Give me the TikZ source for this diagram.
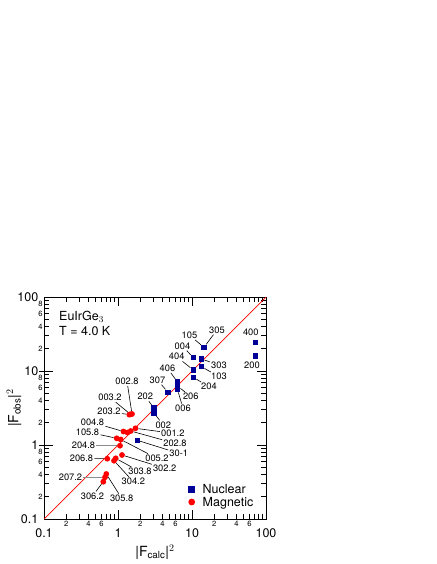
\documentclass[tikz,border=0pt]{standalone}
\usepackage{fontspec}
\setmainfont{TeX Gyre Heros}
\definecolor{nucblue}{RGB}{0,0,153}
\definecolor{magred}{RGB}{255,0,0}
\begin{document}
\begin{tikzpicture}[x=1pt,y=-1pt,
  lbl/.style={inner sep=0pt,outer sep=1.3pt,font=\fontsize{9.3}{9.3}\selectfont},
  majl/.style={inner sep=0pt,font=\fontsize{12.5}{12.5}\selectfont},
  minl/.style={inner sep=0pt,font=\fontsize{7.6}{7.6}\selectfont},
  nuc/.style={rectangle,fill=nucblue,draw=none,minimum size=5.5pt,inner sep=0pt},
  mag/.style={circle,fill=magred,draw=none,minimum size=5.8pt,inner sep=0pt},
  lead/.style={draw=black,line width=0.6pt},
  glead/.style={draw=black!45,line width=1.1pt},
]
\fill[white] (0,0) rectangle (436,564);
\useasboundingbox (0,0) rectangle (436,564);

% ticks
\foreach \d in {0,1,2}{
  \foreach \m in {2,...,9}{
    \pgfmathsetmacro\o{74*(\d+ln(\m)/ln(10))}
    \draw[line width=0.8pt] (44+\o,519) -- ++(0,-5);
    \draw[line width=0.8pt] (44+\o,297) -- ++(0,5);
    \draw[line width=0.8pt] (44,519-\o) -- ++(5,0);
    \draw[line width=0.8pt] (266,519-\o) -- ++(-5,0);
  }
}
\foreach \o in {74,148}{
  \draw[line width=0.8pt] (44+\o,519) -- ++(0,-9);
  \draw[line width=0.8pt] (44+\o,297) -- ++(0,9);
  \draw[line width=0.8pt] (39,519-\o) -- ++(14,0);
  \draw[line width=0.8pt] (266,519-\o) -- ++(-9,0);
}
% minor labels
\foreach \d in {0,1,2}{
  \foreach \m in {2,4,6}{
    \pgfmathsetmacro\o{74*(\d+ln(\m)/ln(10))}
    \node[minl] at (44+\o,523.8) {\m};
  }
  \foreach \m in {2,4,6,8}{
    \pgfmathsetmacro\o{74*(\d+ln(\m)/ln(10))}
    \node[minl,anchor=east] at (42.8,519-\o) {\m};
  }
}
% major labels
\node[majl] (xa) at (44,533.5) {0.1};
\node[majl] (xb) at (118,533.5) {1};
\node[majl] (xc) at (192,533.5) {10};
\node[majl] (xd) at (266,533.5) {100};
\node[majl,anchor=east] (ya) at (38.5,519) {0.1};
\node[majl,anchor=east] (yb) at (38.5,445) {1};
\node[majl,anchor=east] (yc) at (38.5,371) {10};
\node[majl,anchor=east] (yd) at (38.5,297) {100};

% frame
\draw[line width=1pt] (44,297) rectangle (266,519);

% axis titles
\node[inner sep=0pt,font=\fontsize{14}{14}\selectfont] (xt) at (155,552) {|F$_{\mathrm{calc}}$|$^2$};
\node[inner sep=0pt,font=\fontsize{14}{14}\selectfont,rotate=90] (yt) at (14,408) {|F$_{\mathrm{obs}}$|$^2$};

% diagonal
\draw[magred,line width=0.7pt] (44,519) -- (266,297);

% sample text
\node[inner sep=0pt,anchor=base west,font=\fontsize{12.5}{12.5}\selectfont] (t1) at (59,320.5) {EuIrGe$_3$};
\node[inner sep=0pt,anchor=base west,font=\fontsize{12.5}{12.5}\selectfont] (t2) at (59,335) {T = 4.0 K};

% nuclear squares
\node[nuc] (s305) at (204,347.3) {};
\node[nuc] (s004) at (193.3,357.7) {};
\node[nuc] (s303) at (201.5,359) {};
\node[nuc] (s404) at (193.3,370) {};
\node[nuc] (s103) at (201.5,366.7) {};
\node[nuc] (s204) at (193.3,377.3) {};
\node[nuc] (s406) at (177.5,382) {};
\node[nuc] (s206) at (177.5,386) {};
\node[nuc] (s006) at (177.5,389.5) {};
\node[nuc] (s307) at (168,392.3) {};
\node[nuc] (s202) at (154,408) {};
\node[nuc] (s002) at (154,413) {};
\node[nuc] (s301) at (137.3,440.3) {};
\node[nuc] (s400) at (255.3,342.7) {};
\node[nuc] (s200) at (255.3,356) {};

% magnetic circles
\node[mag] (c232) at (129.3,414.6) {};
\node[mag] (c032) at (130.5,414.3) {};
\node[mag] (c028) at (132,414) {};
\node[mag] (c048) at (123.5,431.5) {};
\node[mag] (c048b) at (127.5,432.5) {};
\node[mag] (c281) at (130.7,431) {};
\node[mag] (c012) at (135.5,428.3) {};
\node[mag] (c158) at (116.7,438.3) {};
\node[mag] (c052) at (120.7,439.5) {};
\node[mag] (c248) at (120,445.7) {};
\node[mag] (c268) at (107.3,458.7) {};
\node[mag] (c342) at (114,460.7) {};
\node[mag] (c338) at (115.7,458.3) {};
\node[mag] (c222) at (122,455) {};
\node[mag] (c358) at (106.3,474) {};
\node[mag] (c272) at (105,477.3) {};
\node[mag] (c362) at (103.3,481.7) {};

% labels nuclear
\node[lbl] (l305) at (217,330) {305};
\node[lbl] (l105) at (189.5,335.3) {105};
\node[lbl] (l004) at (182.5,346) {004};
\node[lbl] (l404) at (176.7,356.7) {404};
\node[lbl] (l303) at (219,365) {303};
\node[lbl] (l103) at (219,376.7) {103};
\node[lbl] (l204) at (209,386.7) {204};
\node[lbl] (l406) at (167.5,368.3) {406};
\node[lbl] (l206) at (190.8,396.7) {206};
\node[lbl] (l006) at (183,408.3) {006};
\node[lbl] (l307) at (157.5,380) {307};
\node[lbl] (l202) at (145.3,396.7) {202};
\node[lbl] (l002) at (163.3,425) {002};
\node[lbl] (l301) at (178.8,453.3) {30-1};
\node[lbl] (l400) at (250.8,332.7) {400};
\node[lbl] (l200) at (252,365.7) {200};

% labels magnetic
\node[lbl] (l028) at (127,381.3) {002.8};
\node[lbl] (l032) at (110,397.5) {003.2};
\node[lbl] (l232) at (109,411.7) {203.2};
\node[lbl] (l048) at (92.5,422.5) {004.8};
\node[lbl] (l012) at (172.8,433.3) {001.2};
\node[lbl] (l281) at (175,443.3) {202.8};
\node[lbl] (l158) at (87.5,432) {105.8};
\node[lbl] (l052) at (157,458.3) {005.2};
\node[lbl] (l248) at (83.5,445.7) {204.8};
\node[lbl] (l268) at (81.5,458.5) {206.8};
\node[lbl] (l222) at (164.7,468.3) {302.2};
\node[lbl] (l338) at (140,471.7) {303.8};
\node[lbl] (l342) at (133.3,481.7) {304.2};
\node[lbl] (l272) at (70.5,477.3) {207.2};
\node[lbl] (l358) at (121.7,498.3) {305.8};
\node[lbl] (l362) at (92.5,496) {306.2};

% leaders nuclear
\draw[lead] (l305) -- (s305);
\draw[lead] (l105) -- (s305);
\draw[lead] (l004) -- (s004);
\draw[lead] (l404) -- (s404);
\draw[lead] (l303) -- (s303);
\draw[lead] (l103) -- (s103);
\draw[lead] (l204) -- (s204);
\draw[lead] (l406) -- (s406);
\draw[lead] (l206) -- (s206);
\draw[lead] (l006) -- (s006);
\draw[lead] (l307) -- (s307);
\draw[lead] (l202) -- (s202);
\draw[lead] (l002) -- (s002);
\draw[lead] (l301) -- (s301);

% leaders magnetic
\draw[lead] (l028) -- (c028);
\draw[lead] (l032) -- (c032);
\draw[lead] (l232) -- (c232);
\draw[lead] (l048) -- (c048);
\draw[lead] (l012) -- (c012);
\draw[lead] (l281) -- (c281);
\draw[lead] (l158) -- (c158);
\draw[lead] (l052) -- (c052);
\draw[glead] (l248.east) -- (c248.west);
\draw[lead] (l268) -- (c268);
\draw[lead] (l222) -- (c222);
\draw[lead] (l338) -- (c338);
\draw[lead] (l342) -- (c342);
\draw[glead] (l272.east) -- (c272.west);
\draw[lead] (l358) -- (c358);
\draw[lead] (l362) -- (c362);

% legend
\node[nuc,minimum size=6.5pt] (ln) at (191.7,489.3) {};
\node[mag,minimum size=6.8pt] (lm) at (191.7,502) {};
\node[inner sep=0pt,anchor=base west,font=\fontsize{12.5}{12.5}\selectfont] (tn) at (202.5,493.5) {Nuclear};
\node[inner sep=0pt,anchor=base west,font=\fontsize{12.5}{12.5}\selectfont] (tm) at (202.5,506) {Magnetic};
\end{tikzpicture}
\end{document}
